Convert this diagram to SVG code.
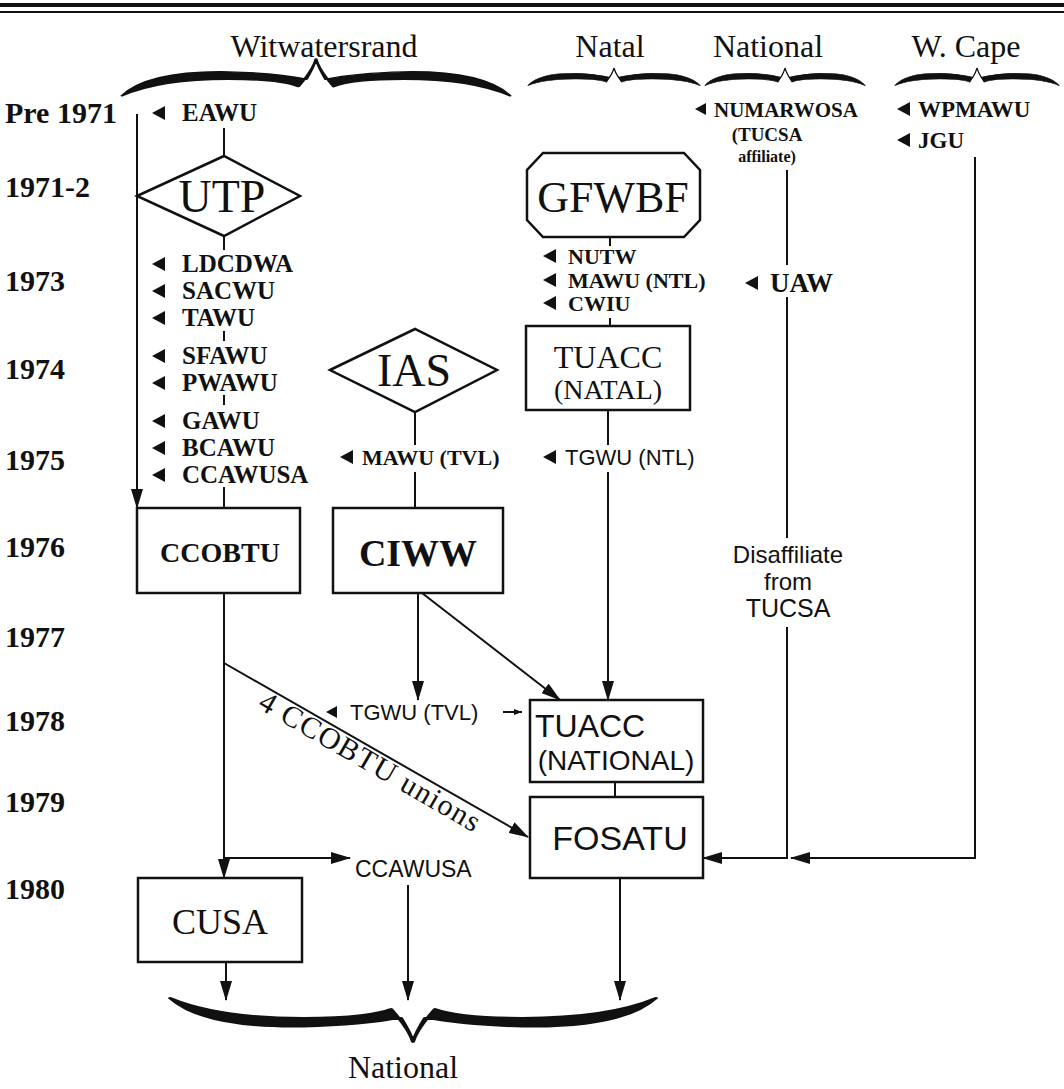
<svg xmlns="http://www.w3.org/2000/svg" width="1064" height="1089" viewBox="0 0 1064 1089">
<style>
.ln{stroke:#111;stroke-width:2;fill:none}
.box{stroke:#111;stroke-width:2.5;fill:#fff}
.sr{font-family:"Liberation Serif",serif;fill:#111}
.ss{font-family:"Liberation Sans",sans-serif;fill:#111}
.b{font-weight:bold}
.m{text-anchor:middle}
.yr{font-family:"Liberation Serif",serif;font-weight:bold;font-size:30px;fill:#111}
.hd{font-family:"Liberation Serif",serif;font-size:32px;fill:#111;text-anchor:middle}
.lab{font-family:"Liberation Serif",serif;font-weight:bold;font-size:25px;fill:#111}
.br{fill:#111;stroke:#111;stroke-width:1.6;stroke-linejoin:round;vector-effect:non-scaling-stroke}
</style>
<defs>
<marker id="ah" viewBox="0 0 20 12" refX="19" refY="6" markerWidth="20" markerHeight="12" markerUnits="userSpaceOnUse" orient="auto"><path d="M0,0 L20,6 L0,12 z" fill="#111"/></marker>
<marker id="ahs" viewBox="0 0 8 6" refX="8" refY="3" markerWidth="8" markerHeight="6" markerUnits="userSpaceOnUse" orient="auto"><path d="M0,0 L8,3 L0,6 z" fill="#111"/></marker>
<polygon id="tri" points="0,0 13,-7 13,7" fill="#111"/>
<path id="brace" d="M0,40 C10,20 30,13 55,14 C75,15 88,19 95,22 C97,15 99,7 100,0 C101,7 103,15 105,22 C112,19 125,15 145,14 C170,13 190,20 200,40 C188,29 170,22 145,22 C125,22 114,26 109,30 C105,20 101,8 100,0 C99,8 95,20 91,30 C86,26 75,22 55,22 C30,22 12,29 0,40 Z"/>
<path id="sbrace" d="M0,40 C10,18 30,11 55,12 C75,13 88,18 95,21 C97,15 99,7 100,0 C101,7 103,15 105,21 C112,18 125,13 145,12 C170,11 190,18 200,40 C188,30 170,25 145,25 C125,25 114,28 109,32 C105,21 101,8 100,0 C99,8 95,21 91,32 C86,28 75,25 55,25 C30,25 12,30 0,40 Z"/>
</defs>
<rect width="1064" height="1089" fill="#fff"/>

<g id="header">
<line x1="0" y1="5" x2="1064" y2="5" stroke="#111" stroke-width="4"/>
<line x1="0" y1="12" x2="1064" y2="12" stroke="#111" stroke-width="2"/>
<text class="hd" x="324" y="57">Witwatersrand</text>
<text class="hd" x="610" y="57">Natal</text>
<text class="hd" x="768" y="57">National</text>
<text class="hd" x="966" y="57">W. Cape</text>
<use href="#brace" class="br" transform="translate(122,59) scale(1.94,0.92)"/>
<use href="#sbrace" class="br" transform="translate(528,68) scale(0.86,0.44)"/>
<use href="#sbrace" class="br" transform="translate(705,68) scale(0.8,0.44)"/>
<use href="#sbrace" class="br" transform="translate(895,68) scale(0.82,0.44)"/>
</g>

<g id="years">
<text class="yr" x="5" y="123">Pre 1971</text>
<text class="yr" x="5" y="197">1971-2</text>
<text class="yr" x="5" y="291">1973</text>
<text class="yr" x="5" y="379">1974</text>
<text class="yr" x="5" y="470">1975</text>
<text class="yr" x="5" y="557">1976</text>
<text class="yr" x="5" y="647">1977</text>
<text class="yr" x="5" y="731">1978</text>
<text class="yr" x="5" y="812">1979</text>
<text class="yr" x="5" y="899">1980</text>
</g>

<g id="connectors">
<path class="ln" d="M137,114 V508" marker-end="url(#ah)"/>
<path class="ln" d="M224,128 V156"/>
<path class="ln" d="M224,236 V250"/>
<path class="ln" d="M224,331 V341"/>
<path class="ln" d="M224,395 V405"/>
<path class="ln" d="M224,487 V508"/>
<path class="ln" d="M415,412 V445"/>
<path class="ln" d="M415,472 V508"/>
<path class="ln" d="M610,237 V246"/>
<path class="ln" d="M610,318 V326"/>
<path class="ln" d="M608,410 V445"/>
<path class="ln" d="M608,472 V700" marker-end="url(#ah)"/>
<path class="ln" d="M418,593 V700" marker-end="url(#ah)"/>
<path class="ln" d="M422,593 L560,700" marker-end="url(#ah)"/>
<path class="ln" d="M503,712 H522" stroke-width="1.5" marker-end="url(#ahs)"/>
<path class="ln" d="M224,593 V878" marker-end="url(#ah)"/>
<path class="ln" d="M224,663 L528,837" marker-end="url(#ah)"/>
<path class="ln" d="M224,858 H350" marker-end="url(#ah)"/>
<path class="ln" d="M408,885 V1000" marker-end="url(#ah)"/>
<path class="ln" d="M226,962 V1000" marker-end="url(#ah)"/>
<path class="ln" d="M620,878 V1000" marker-end="url(#ah)"/>
<path class="ln" d="M615,782 V797"/>
<path class="ln" d="M787,170 V265"/>
<path class="ln" d="M787,297 V538"/>
<path class="ln" d="M787,627 V858 H703" marker-end="url(#ah)"/>
<path class="ln" d="M975,157 V858 H791" marker-end="url(#ah)"/>
</g>

<g id="n-EAWU"><use href="#tri" x="152" y="113"/><text class="lab" x="182" y="121">EAWU</text></g>
<g id="n-UTP"><polygon class="box" points="137,196 224,156 300,196 224,236"/><text class="sr m" x="222" y="212" font-size="46">UTP</text></g>
<g id="n-LDCDWA"><use href="#tri" x="152" y="264"/><text class="lab" x="182" y="272">LDCDWA</text></g>
<g id="n-SACWU"><use href="#tri" x="152" y="291"/><text class="lab" x="182" y="299">SACWU</text></g>
<g id="n-TAWU"><use href="#tri" x="152" y="318"/><text class="lab" x="182" y="326">TAWU</text></g>
<g id="n-SFAWU"><use href="#tri" x="152" y="356"/><text class="lab" x="182" y="364">SFAWU</text></g>
<g id="n-PWAWU"><use href="#tri" x="152" y="383"/><text class="lab" x="182" y="391">PWAWU</text></g>
<g id="n-GAWU"><use href="#tri" x="152" y="421"/><text class="lab" x="182" y="429">GAWU</text></g>
<g id="n-BCAWU"><use href="#tri" x="152" y="448"/><text class="lab" x="182" y="456">BCAWU</text></g>
<g id="n-CCAWUSA1"><use href="#tri" x="152" y="475"/><text class="lab" x="182" y="483">CCAWUSA</text></g>
<g id="n-CCOBTU"><rect class="box" x="137" y="508" width="163" height="85"/><text class="sr b m" x="220" y="562" font-size="28">CCOBTU</text></g>

<g id="n-IAS"><polygon class="box" points="330,370 415,329 497,370 415,412"/><text class="sr m" x="414" y="386" font-size="46">IAS</text></g>
<g id="n-MAWUTVL"><use href="#tri" x="340" y="457"/><text class="sr b" x="362" y="465" font-size="22">MAWU (TVL)</text></g>
<g id="n-CIWW"><rect class="box" x="333" y="508" width="170" height="85"/><text class="sr b m" x="418" y="566" font-size="38">CIWW</text></g>

<g id="n-GFWBF"><polygon class="box" points="543,153 684,153 700,170 700,220 684,237 543,237 527,220 527,170"/><text class="sr m" x="613" y="212" font-size="44">GFWBF</text></g>
<g id="n-NUTW"><use href="#tri" x="543" y="256"/><text class="sr b" x="568" y="264" font-size="22">NUTW</text></g>
<g id="n-MAWUNTL"><use href="#tri" x="543" y="280"/><text class="sr b" x="568" y="288" font-size="22">MAWU (NTL)</text></g>
<g id="n-CWIU"><use href="#tri" x="543" y="303"/><text class="sr b" x="568" y="311" font-size="22">CWIU</text></g>
<g id="n-TUACCNATAL"><rect class="box" x="526" y="326" width="164" height="84"/><text class="sr m" x="608" y="368" font-size="32">TUACC</text><text class="sr m" x="608" y="399" font-size="28">(NATAL)</text></g>
<g id="n-TGWUNTL"><use href="#tri" x="543" y="457"/><text class="ss" x="565" y="465" font-size="22">TGWU (NTL)</text></g>

<g id="n-NUMARWOSA"><polygon points="695,109 706,103 706,115" fill="#111"/><text class="sr b" x="714" y="117" font-size="21">NUMARWOSA</text><text class="sr b m" x="767" y="141" font-size="19">(TUCSA</text><text class="sr b m" x="767" y="162" font-size="16">affiliate)</text></g>
<g id="n-UAW"><use href="#tri" x="745" y="283"/><text class="sr b" x="770" y="292" font-size="27">UAW</text></g>
<g id="n-Disaffiliate"><text class="ss m" x="788" y="563" font-size="24">Disaffiliate</text><text class="ss m" x="788" y="590" font-size="24">from</text><text class="ss m" x="788" y="617" font-size="25">TUCSA</text></g>

<g id="n-WPMAWU"><use href="#tri" x="897" y="109"/><text class="sr b" x="918" y="117" font-size="23">WPMAWU</text></g>
<g id="n-JGU"><use href="#tri" x="897" y="140"/><text class="sr b" x="918" y="148" font-size="23">JGU</text></g>

<g id="n-TGWUTVL"><polygon points="326,712 337,706 337,718" fill="#111"/><text class="ss" x="350" y="720" font-size="22">TGWU (TVL)</text></g>
<g id="n-TUACCNAT"><rect class="box" x="530" y="700" width="173" height="82"/><text class="ss" x="535" y="737" font-size="32">TUACC</text><text class="ss m" x="616" y="770" font-size="28">(NATIONAL)</text></g>
<g id="n-FOSATU"><rect class="box" x="530" y="797" width="173" height="81"/><text class="ss m" x="620" y="850" font-size="34">FOSATU</text></g>
<g id="n-CUSA"><rect class="box" x="138" y="878" width="164" height="84"/><text class="sr m" x="220" y="934" font-size="36">CUSA</text></g>
<g id="n-CCAWUSA2"><text class="ss" x="355" y="877" font-size="23">CCAWUSA</text></g>
<g id="n-4CCOBTU"><text class="sr m" transform="translate(365,770) rotate(30)" font-size="30" textLength="250" lengthAdjust="spacing">4 CCOBTU unions</text></g>

<g id="n-National">
<use href="#brace" class="br" transform="translate(170,1042) scale(2.43,-1.1)"/>
<text class="hd" x="403" y="1078" font-size="34">National</text>
</g>
</svg>
